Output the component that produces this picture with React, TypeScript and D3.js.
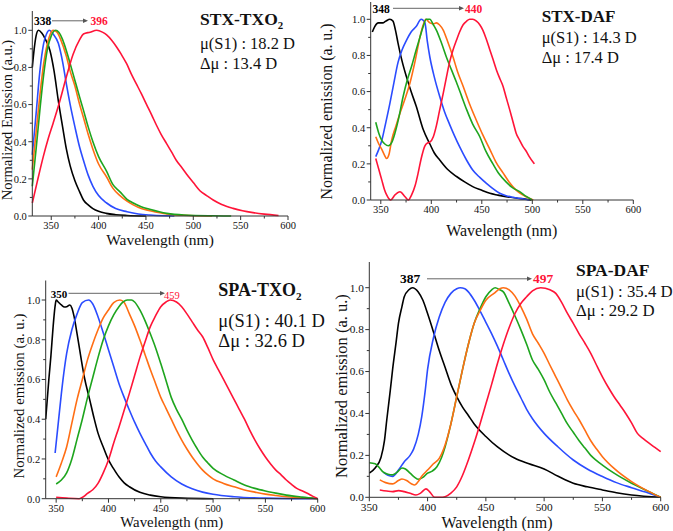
import React from 'react';
import * as d3 from 'd3';

type Pt = [number, number];

// ---------- Panel 1: STX-TXO2 ----------
const stxTxo2Black: Pt[] = [[330,0.8],[332,0.9],[334,0.97],[336.5,1.0],[340,0.985],[344,0.95],[348.7,0.89],[353,0.78],[357.5,0.62],[362,0.48],[366,0.36],[370,0.27],[375,0.19],[380,0.13],[384,0.086],[389,0.06],[394,0.04],[400,0.025],[408,0.014],[418,0.007],[430,0.003],[450,0]];
const stxTxo2Blue: Pt[] = [[330,0.33],[334,0.55],[338,0.78],[342,0.93],[345,0.98],[348,1.0],[352,0.98],[357.5,0.93],[362,0.83],[366,0.71],[370,0.6],[375,0.48],[380,0.37],[384,0.3],[389,0.22],[394,0.16],[400,0.11],[408.5,0.07],[418,0.04],[430,0.023],[442,0.011],[454,0.005],[470,0.001],[480,0]];
const stxTxo2Orange: Pt[] = [[330,0.25],[334,0.45],[338,0.65],[342,0.82],[346,0.93],[349,0.98],[352,1.0],[356,0.99],[360,0.95],[366,0.86],[370,0.78],[375,0.7],[380,0.6],[384,0.53],[389,0.44],[394,0.36],[400,0.28],[408.5,0.21],[415,0.15],[422.6,0.11],[430,0.08],[436.6,0.06],[445,0.04],[454,0.029],[472,0.011],[490,0.004],[520,0]];
const stxTxo2Green: Pt[] = [[330,0.16],[334,0.36],[338,0.57],[342,0.76],[346,0.9],[350,0.97],[354.6,1.0],[358,0.99],[362,0.95],[366,0.89],[370,0.82],[375,0.73],[380,0.64],[384,0.57],[389,0.48],[394,0.4],[400,0.32],[408.5,0.24],[415,0.17],[422.6,0.13],[430,0.09],[436.6,0.07],[445,0.05],[454,0.036],[472,0.014],[490,0.005],[520,0.001],[540,0]];
const stxTxo2Red: Pt[] = [[330,0.07],[335,0.18],[341.6,0.32],[347,0.42],[352,0.5],[358,0.6],[366,0.75],[373,0.87],[380,0.95],[384,0.98],[391,0.99],[398,1.0],[404,0.99],[408.5,0.975],[414,0.945],[419,0.91],[424,0.87],[429.6,0.82],[435,0.76],[440,0.71],[445,0.66],[450.7,0.6],[456,0.545],[461,0.49],[466,0.44],[471.8,0.39],[477,0.345],[482,0.3],[488,0.26],[493,0.225],[500,0.18],[507,0.136],[514,0.11],[521,0.086],[530,0.062],[542,0.041],[552,0.028],[563,0.018],[575,0.01],[590,0.003]];

// ---------- Panel 2: STX-DAF ----------
const stxDafBlack: Pt[] = [[341.6,0.93],[344,0.96],[347.6,0.98],[351.9,0.98],[355,0.99],[359,1.0],[362,0.99],[364.5,0.94],[367,0.87],[371,0.77],[375.5,0.68],[380,0.6],[385,0.52],[392,0.39],[398.6,0.31],[403,0.26],[408.5,0.22],[416,0.17],[425,0.13],[433,0.1],[441,0.074],[450,0.054],[458,0.037],[466,0.027],[474,0.018],[485,0.01],[494,0.004],[499,0]];
const stxDafBlue: Pt[] = [[345,0.24],[348,0.28],[351,0.33],[355,0.43],[359,0.535],[363,0.65],[367,0.76],[371,0.83],[375.5,0.885],[380,0.93],[385,0.96],[390,1.0],[393.7,0.98],[396,0.88],[398.6,0.79],[403,0.68],[408.5,0.57],[413,0.49],[418,0.42],[423,0.355],[428,0.295],[435,0.22],[441,0.166],[448,0.125],[454.6,0.092],[461,0.063],[467.7,0.037],[474,0.024],[481,0.015],[490,0.007],[497,0]];
const stxDafOrange: Pt[] = [[345,0.35],[348,0.31],[351,0.28],[353.5,0.25],[355.8,0.23],[358,0.25],[360.7,0.33],[365,0.41],[369,0.48],[374,0.56],[379,0.65],[384,0.77],[388.7,0.9],[392,0.97],[394.7,1.0],[398.6,0.98],[402,0.975],[405,0.98],[408,0.97],[411.8,0.94],[416,0.88],[421.6,0.79],[426,0.71],[431.5,0.63],[438,0.53],[444.7,0.44],[451,0.36],[458,0.28],[464,0.21],[471,0.15],[477,0.1],[484,0.055],[490,0.03],[494,0.018],[501,0]];
const stxDafGreen: Pt[] = [[345,0.43],[348,0.37],[351,0.33],[354,0.31],[357.5,0.3],[361,0.32],[364,0.37],[368,0.46],[372,0.57],[376,0.66],[380.5,0.74],[385,0.83],[388.7,0.9],[392,0.96],[395,1.0],[398.6,1.0],[402,0.97],[405,0.94],[410,0.87],[415,0.79],[420,0.72],[425,0.65],[430,0.575],[435,0.5],[441,0.42],[448,0.35],[454,0.27],[461,0.2],[467,0.145],[474,0.1],[480,0.07],[487.5,0.046],[494,0.02],[500,0]];
const stxDafRed: Pt[] = [[345,0.23],[348,0.17],[351,0.11],[353.5,0.06],[355.8,0.028],[359.8,0],[364,0.028],[369,0.046],[374,0.018],[377.2,0],[380.5,0.028],[384,0.08],[387,0.15],[390,0.23],[393.7,0.3],[396,0.315],[398.6,0.32],[402,0.35],[405,0.41],[408,0.49],[411.8,0.59],[415,0.68],[418,0.76],[421.5,0.83],[425,0.885],[428,0.93],[431.5,0.97],[435,0.99],[438,1.0],[441,1.0],[444.7,0.99],[448,0.97],[451,0.94],[454.5,0.89],[458,0.83],[461,0.78],[464.5,0.72],[468,0.67],[471,0.63],[474,0.57],[477.6,0.5],[481,0.43],[484,0.37],[487.5,0.33],[490.8,0.295],[494,0.27],[497,0.24],[502,0.2]];

// ---------- Panel 3: SPA-TXO2 ----------
const spaTxo2Black: Pt[] = [[340,0.4],[343,0.6],[345,0.72],[347,0.86],[349,0.97],[350,1.0],[352,0.99],[355,0.975],[358,0.965],[360,0.966],[363,0.975],[365,0.96],[367,0.92],[370,0.83],[372,0.765],[377,0.61],[382,0.5],[386,0.41],[390,0.33],[395,0.26],[400,0.195],[405,0.15],[410,0.11],[415,0.08],[420,0.06],[430,0.032],[440,0.018],[450,0.01],[470,0.003],[500,0]];
const spaTxo2Blue: Pt[] = [[349,0.23],[352,0.38],[355,0.53],[358,0.66],[360,0.73],[365,0.85],[370,0.93],[375,0.987],[381,1.0],[385,0.98],[390,0.916],[395,0.835],[400,0.75],[405,0.665],[410,0.58],[415,0.51],[420,0.446],[425,0.385],[430,0.33],[435,0.28],[440,0.23],[445,0.19],[450,0.16],[460,0.11],[470,0.074],[480,0.05],[490,0.033],[500,0.022],[520,0.01],[550,0.003],[600,0]];
const spaTxo2Orange: Pt[] = [[350,0.11],[355,0.18],[360,0.26],[365,0.38],[370,0.5],[375,0.6],[380,0.7],[385,0.78],[390,0.85],[395,0.91],[400,0.95],[405,0.987],[411,1.0],[415,0.987],[420,0.93],[425,0.87],[430,0.8],[435,0.725],[440,0.65],[445,0.58],[450,0.51],[455,0.455],[460,0.4],[465,0.345],[470,0.295],[475,0.25],[480,0.21],[485,0.175],[490,0.144],[495,0.12],[500,0.1],[510,0.077],[520,0.06],[530,0.044],[540,0.033],[550,0.023],[560,0.016],[570,0.01],[585,0.004],[600,0]];
const spaTxo2Green: Pt[] = [[350,0.074],[355,0.094],[360,0.13],[365,0.2],[370,0.3],[375,0.4],[380,0.51],[385,0.61],[390,0.71],[395,0.8],[400,0.87],[405,0.925],[410,0.966],[414,0.99],[418,1.0],[422,1.0],[425,0.99],[430,0.95],[435,0.895],[440,0.83],[445,0.76],[450,0.68],[455,0.595],[460,0.51],[465,0.45],[470,0.4],[475,0.345],[480,0.295],[485,0.25],[490,0.21],[495,0.18],[500,0.153],[510,0.12],[520,0.094],[530,0.069],[540,0.052],[550,0.039],[560,0.028],[570,0.018],[585,0.008],[600,0]];
const spaTxo2Red: Pt[] = [[350,0.007],[360,0.003],[372,0],[376,0.01],[380,0.027],[385,0.045],[390,0.077],[395,0.13],[400,0.195],[405,0.28],[410,0.36],[415,0.445],[420,0.53],[425,0.62],[430,0.71],[435,0.79],[440,0.866],[445,0.92],[450,0.966],[455,0.99],[459,1.0],[465,0.99],[470,0.966],[475,0.93],[480,0.89],[485,0.85],[490,0.815],[495,0.76],[500,0.7],[505,0.65],[510,0.6],[515,0.55],[520,0.5],[525,0.45],[530,0.4],[535,0.345],[540,0.295],[545,0.25],[550,0.21],[555,0.175],[560,0.144],[565,0.12],[570,0.094],[575,0.072],[580,0.052],[585,0.04],[590,0.027],[595,0.013],[600,0]];

// ---------- Panel 4: SPA-DAF ----------
const spaDafBlack: Pt[] = [[350,0.115],[355,0.14],[360,0.19],[363,0.27],[365,0.37],[368,0.51],[370,0.61],[373,0.74],[375,0.83],[378,0.91],[380,0.957],[384,0.99],[387,1.0],[392,0.98],[396,0.94],[400,0.877],[405,0.79],[410,0.7],[415,0.62],[420,0.54],[425,0.48],[430,0.43],[435,0.39],[440,0.35],[450,0.29],[460,0.24],[475,0.186],[487,0.16],[500,0.135],[512,0.1],[525,0.067],[537,0.05],[550,0.035],[562,0.022],[575,0.011],[600,0]];
const spaDafBlue: Pt[] = [[362,0.12],[366,0.105],[370,0.1],[375,0.13],[380,0.17],[385,0.2],[388,0.23],[392,0.3],[395,0.385],[398,0.51],[400,0.61],[405,0.76],[410,0.86],[415,0.93],[420,0.973],[425,0.995],[428,1.0],[432,0.995],[435,0.98],[440,0.94],[445,0.89],[450,0.835],[455,0.78],[460,0.72],[465,0.655],[470,0.59],[475,0.53],[480,0.475],[485,0.42],[490,0.375],[500,0.305],[512,0.24],[525,0.178],[537,0.135],[550,0.099],[562,0.07],[575,0.046],[587,0.025],[600,0]];
const spaDafOrange: Pt[] = [[359,0.083],[364,0.07],[370,0.064],[375,0.08],[378,0.087],[382,0.08],[386,0.065],[389,0.059],[392,0.075],[395,0.1],[400,0.13],[405,0.16],[410,0.186],[415,0.25],[420,0.35],[425,0.48],[430,0.61],[435,0.73],[440,0.83],[445,0.89],[450,0.94],[457,0.973],[462,0.995],[465,1.0],[470,0.99],[475,0.96],[480,0.91],[485,0.85],[490,0.78],[495,0.735],[500,0.687],[505,0.63],[510,0.575],[515,0.52],[520,0.464],[525,0.415],[530,0.37],[535,0.32],[540,0.27],[545,0.23],[550,0.194],[560,0.138],[575,0.075],[590,0.027],[600,0]];
const spaDafGreen: Pt[] = [[350,0.165],[355,0.16],[358,0.145],[362,0.12],[366,0.11],[370,0.107],[374,0.12],[378,0.14],[381,0.135],[385,0.115],[389,0.095],[392,0.086],[396,0.095],[400,0.115],[404,0.125],[408,0.146],[412,0.19],[415,0.24],[420,0.35],[425,0.48],[430,0.61],[435,0.73],[440,0.83],[445,0.9],[450,0.957],[455,0.99],[458,1.0],[462,0.99],[465,0.98],[470,0.925],[475,0.865],[480,0.8],[485,0.73],[490,0.655],[495,0.61],[500,0.56],[505,0.5],[510,0.45],[515,0.4],[520,0.35],[525,0.31],[530,0.27],[535,0.235],[540,0.2],[545,0.175],[550,0.154],[560,0.115],[575,0.067],[590,0.027],[600,0]];
const spaDafRed: Pt[] = [[359,0.035],[365,0.03],[370,0.027],[375,0.032],[380,0.027],[385,0.019],[390,0.011],[394,0.02],[398.6,0.04],[402,0.025],[406,0],[411,0],[415,0.003],[420,0.02],[425,0.05],[430,0.105],[435,0.178],[440,0.26],[445,0.35],[450,0.445],[455,0.54],[460,0.64],[465,0.73],[470,0.81],[475,0.877],[480,0.925],[485,0.957],[490,0.985],[497,1.0],[505,0.99],[510,0.973],[515,0.93],[520,0.877],[525,0.83],[530,0.78],[535,0.735],[540,0.687],[545,0.63],[550,0.575],[555,0.525],[560,0.48],[565,0.44],[570,0.4],[575,0.355],[580,0.305],[585,0.28],[590,0.258],[595,0.238],[600,0.218]];

const yTickValues = [0, 0.2, 0.4, 0.6, 0.8, 1.0];
const yMinorValues = [0.1, 0.3, 0.5, 0.7, 0.9];

const COLORS = { black: '#000000', blue: '#2b4cff', orange: '#ff6e14', green: '#1ea51e', red: '#ff1438' };
const FONT = "'Liberation Serif', 'DejaVu Serif', serif";

interface PanelCfg {
  xDomain: [number, number];
  xRange: [number, number];
  y0: number;
  y1: number;
  yAxisTop: number;
  tickFont: number;
  series: { data: Pt[]; color: string }[];
  title: string; sub?: string; mu: string; dmu: string;
  titleX: number; titleY: number; muY: number; dmuY: number; titleFont: number; muFont: number;
  startLabel: string; endLabel: string; annY: number; annFont: number;
  startX: number; arrowX1: number; arrowX2: number; endX: number; endBold: boolean; endFont: number;
  yLabel: string; yLabelX: number; yLabelY: number; yLabelFont: number;
  xLabelX: number; xLabelY: number; xLabelFont: number;
}

const panels: PanelCfg[] = [
  {
    xDomain: [330, 600], xRange: [32.3, 288], y0: 216, y1: 30.3, yAxisTop: 11, tickFont: 10.5,
    series: [
      { data: stxTxo2Black, color: COLORS.black },
      { data: stxTxo2Blue, color: COLORS.blue },
      { data: stxTxo2Orange, color: COLORS.orange },
      { data: stxTxo2Green, color: COLORS.green },
      { data: stxTxo2Red, color: COLORS.red },
    ],
    title: 'STX-TXO', sub: '2', mu: 'μ(S1) : 18.2 D', dmu: 'Δμ : 13.4 D',
    titleX: 200, titleY: 25, muY: 48.5, dmuY: 68.5, titleFont: 17.5, muFont: 16.5,
    startLabel: '338', endLabel: '396', annY: 25, annFont: 11.5,
    startX: 34, arrowX1: 52, arrowX2: 88, endX: 90.5, endBold: true, endFont: 11.5,
    yLabel: 'Normalized Emission (a.u.)', yLabelX: 11.5, yLabelY: 120, yLabelFont: 14.5,
    xLabelX: 160, xLabelY: 245, xLabelFont: 15.5,
  },
  {
    xDomain: [340, 600], xRange: [370.7, 633.3], y0: 200, y1: 19.3, yAxisTop: 2, tickFont: 10.5,
    series: [
      { data: stxDafBlack, color: COLORS.black },
      { data: stxDafBlue, color: COLORS.blue },
      { data: stxDafOrange, color: COLORS.orange },
      { data: stxDafGreen, color: COLORS.green },
      { data: stxDafRed, color: COLORS.red },
    ],
    title: 'STX-DAF', mu: 'μ(S1) : 14.3 D', dmu: 'Δμ : 17.4 D',
    titleX: 541.7, titleY: 21.7, muY: 43.3, dmuY: 63.3, titleFont: 17, muFont: 16.5,
    startLabel: '348', endLabel: '440', annY: 12.5, annFont: 11.5,
    startX: 372.5, arrowX1: 393, arrowX2: 464, endX: 465, endBold: true, endFont: 11.5,
    yLabel: 'Normalized emission (a. u.)', yLabelX: 331.5, yLabelY: 111.5, yLabelFont: 15.8,
    xLabelX: 501.7, xLabelY: 235.5, xLabelFont: 16,
  },
  {
    xDomain: [340, 600], xRange: [45.7, 317.7], y0: 498.7, y1: 300, yAxisTop: 280.5, tickFont: 10.5,
    series: [
      { data: spaTxo2Black, color: COLORS.black },
      { data: spaTxo2Blue, color: COLORS.blue },
      { data: spaTxo2Orange, color: COLORS.orange },
      { data: spaTxo2Green, color: COLORS.green },
      { data: spaTxo2Red, color: COLORS.red },
    ],
    title: 'SPA-TXO', sub: '2', mu: 'μ(S1) : 40.1 D', dmu: 'Δμ : 32.6 D',
    titleX: 218.3, titleY: 296, muY: 326.7, dmuY: 347.3, titleFont: 18, muFont: 18.5,
    startLabel: '350', endLabel: '459', annY: 297.5, annFont: 11,
    startX: 50.7, arrowX1: 68.5, arrowX2: 165, endX: 164, endBold: false, endFont: 10.5,
    yLabel: 'Normalized emission (a. u.)', yLabelX: 24, yLabelY: 396, yLabelFont: 14.8,
    xLabelX: 171.7, xLabelY: 526.5, xLabelFont: 14.8,
  },
  {
    xDomain: [350, 600], xRange: [369.3, 660.7], y0: 497.3, y1: 287.7, yAxisTop: 262, tickFont: 11.3,
    series: [
      { data: spaDafBlack, color: COLORS.black },
      { data: spaDafBlue, color: COLORS.blue },
      { data: spaDafGreen, color: COLORS.green },
      { data: spaDafOrange, color: COLORS.orange },
      { data: spaDafRed, color: COLORS.red },
    ],
    title: 'SPA-DAF', mu: 'μ(S1) : 35.4 D', dmu: 'Δμ : 29.2 D',
    titleX: 576, titleY: 275.5, muY: 297, dmuY: 315.5, titleFont: 17.5, muFont: 16.8,
    startLabel: '387', endLabel: '497', annY: 283, annFont: 13.5,
    startX: 400, arrowX1: 427, arrowX2: 532, endX: 533, endBold: true, endFont: 13.5,
    yLabel: 'Normalized emission (a. u.)', yLabelX: 346.5, yLabelY: 386, yLabelFont: 16.5,
    xLabelX: 497, xLabelY: 528, xLabelFont: 16,
  },
];

const AXIS = '#333';
const TEXT = '#111';

function Panel({ cfg }: { cfg: PanelCfg }) {
  const x = d3.scaleLinear().domain(cfg.xDomain).range(cfg.xRange);
  const y = d3.scaleLinear().domain([0, 1]).range([cfg.y0, cfg.y1]);
  const line = d3.line<Pt>().x(d => x(d[0])).y(d => y(d[1])).curve(d3.curveMonotoneX);
  const firstMajor = Math.ceil(cfg.xDomain[0] / 50) * 50;
  const majors = d3.range(firstMajor, cfg.xDomain[1] + 0.1, 50);
  const minors = d3.range(Math.ceil(cfg.xDomain[0] / 25) * 25, cfg.xDomain[1] + 0.1, 25).filter(v => v % 50 !== 0);
  const left = cfg.xRange[0];
  const right = cfg.xRange[1];
  const bottom = cfg.y0;
  const ff = { fontFamily: FONT } as React.CSSProperties;
  return (
    <g>
      {cfg.series.map((s, i) => (
        <path key={i} d={line(s.data) || ''} fill="none" stroke={s.color} strokeWidth={1.6} strokeLinejoin="round" />
      ))}
      <line x1={left} x2={right} y1={bottom} y2={bottom} stroke={AXIS} strokeWidth={1} />
      <line x1={left} x2={left} y1={bottom} y2={cfg.yAxisTop} stroke={AXIS} strokeWidth={1} />
      {majors.map(v => (
        <g key={'xm' + v}>
          <line x1={x(v)} x2={x(v)} y1={bottom} y2={bottom + 4} stroke={AXIS} />
          <text x={x(v)} y={bottom + 13.3} textAnchor="middle" fontSize={cfg.tickFont} style={ff} fill={TEXT}>{v}</text>
        </g>
      ))}
      {minors.map(v => (
        <line key={'xn' + v} x1={x(v)} x2={x(v)} y1={bottom} y2={bottom + 2.5} stroke={AXIS} />
      ))}
      {yTickValues.map(v => (
        <g key={'ym' + v}>
          <line x1={left} x2={left - 4} y1={y(v)} y2={y(v)} stroke={AXIS} />
          <text x={left - 5.5} y={y(v) + 3.8} textAnchor="end" fontSize={cfg.tickFont} style={ff} fill={TEXT}>{v.toFixed(1)}</text>
        </g>
      ))}
      {yMinorValues.map(v => (
        <line key={'yn' + v} x1={left} x2={left - 2.5} y1={y(v)} y2={y(v)} stroke={AXIS} />
      ))}
      <text x={cfg.xLabelX} y={cfg.xLabelY} textAnchor="middle" fontSize={cfg.xLabelFont} style={ff} fill={TEXT}>Wavelength (nm)</text>
      <text transform={`translate(${cfg.yLabelX},${cfg.yLabelY}) rotate(-90)`} textAnchor="middle" fontSize={cfg.yLabelFont} style={ff} fill={TEXT}>{cfg.yLabel}</text>
      <text x={cfg.startX} y={cfg.annY} fontSize={cfg.annFont} fontWeight="bold" style={ff} fill="#000">{cfg.startLabel}</text>
      <line x1={cfg.arrowX1} x2={cfg.arrowX2 - 4} y1={cfg.annY - 4.2} y2={cfg.annY - 4.2} stroke="#666" strokeWidth={1} />
      <path d={`M${cfg.arrowX2},${cfg.annY - 4.2} L${cfg.arrowX2 - 5},${cfg.annY - 6.4} L${cfg.arrowX2 - 5},${cfg.annY - 2} Z`} fill="#555" />
      <text x={cfg.endX} y={cfg.annY + (cfg.endBold ? 0 : 1)} fontSize={cfg.endFont} fontWeight={cfg.endBold ? 'bold' : 'normal'} style={ff} fill={COLORS.red}>{cfg.endLabel}</text>
      <text x={cfg.titleX} y={cfg.titleY} fontSize={cfg.titleFont} fontWeight="bold" style={ff} fill={TEXT}>
        {cfg.title}
        {cfg.sub ? <tspan fontSize={cfg.titleFont * 0.62} dy={4}>{cfg.sub}</tspan> : null}
      </text>
      <text x={cfg.titleX} y={cfg.muY} fontSize={cfg.muFont} style={ff} fill={TEXT}>{cfg.mu}</text>
      <text x={cfg.titleX} y={cfg.dmuY} fontSize={cfg.muFont} style={ff} fill={TEXT}>{cfg.dmu}</text>
    </g>
  );
}

export default function App() {
  return (
    <svg width={673} height={531} viewBox="0 0 673 531" style={{ position: 'absolute', left: 0, top: 0, background: '#fff', fontFamily: FONT }}>
      <rect x={0} y={0} width={673} height={531} fill="#fff" />
      {panels.map((p, i) => <Panel key={i} cfg={p} />)}
    </svg>
  );
}
